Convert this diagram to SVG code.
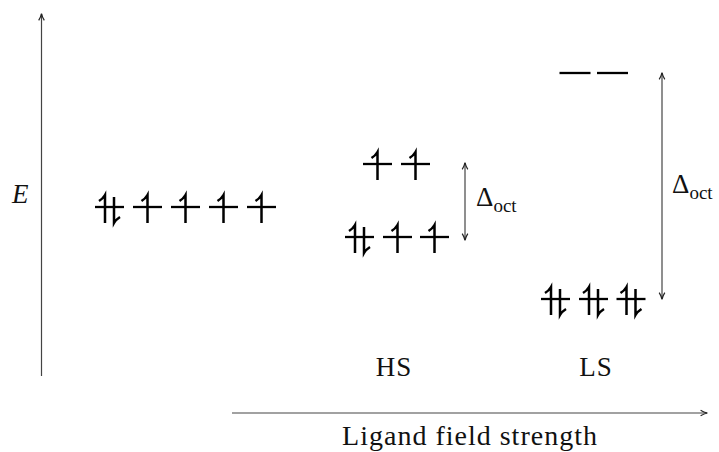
<svg xmlns="http://www.w3.org/2000/svg" width="719" height="452" viewBox="0 0 719 452">
<style>
.lvl{stroke:#000;stroke-width:2.3;fill:none}
.e{stroke:#000;stroke-width:2.5;fill:none;stroke-linecap:butt}
.ax{stroke:#444;stroke-width:1.2;fill:none}
.dl{stroke:#333;stroke-width:1.1;fill:none}
text{font-family:"Liberation Serif","DejaVu Serif",serif;fill:#111}
.lab{font-size:27px}
.sub{font-size:19px}
</style>
<defs>
<marker id="ah" viewBox="0 0 10 10" refX="9" refY="5" markerWidth="8" markerHeight="8" orient="auto-start-reverse" markerUnits="userSpaceOnUse">
<path d="M1,1.5 Q5,4 9.5,5 Q5,6 1,8.5" fill="none" stroke="#222" stroke-width="1.5"/>
</marker>
<path id="up" class="e" d="M0,16 V-12 Q-2,-8.5 -6,-6"/>
<path id="dn" class="e" d="M0,-10 V16 Q2,12.5 6,10"/>
<g id="pair"><line class="lvl" x1="-14.5" y1="0" x2="14.5" y2="0"/><use href="#up" x="-4.5"/><use href="#dn" x="4.5"/></g>
<g id="single"><line class="lvl" x1="-14.5" y1="0" x2="14.5" y2="0"/><use href="#up"/></g>
<g id="empty"><line class="lvl" x1="-15.5" y1="0" x2="15.5" y2="0"/></g>
</defs>
<g id="connectors">
<line class="ax" x1="41.5" y1="376" x2="41.5" y2="14" marker-end="url(#ah)"/>
<line class="ax" x1="232" y1="413" x2="707" y2="413" marker-end="url(#ah)"/>
<line class="dl" x1="465" y1="163" x2="465" y2="240" marker-start="url(#ah)" marker-end="url(#ah)"/>
<line class="dl" x1="662" y1="73" x2="662" y2="299" marker-start="url(#ah)" marker-end="url(#ah)"/>
</g>
<g id="axis-labels">
<text x="12" y="203" class="lab" font-style="italic">E</text>
<text x="470" y="445" font-size="28" letter-spacing="1" text-anchor="middle">Ligand field strength</text>
</g>
<g id="free-ion">
<use href="#pair" x="109.5" y="207"/>
<use href="#single" x="147.5" y="207"/>
<use href="#single" x="185.5" y="207"/>
<use href="#single" x="223.5" y="207"/>
<use href="#single" x="261.5" y="207"/>
</g>
<g id="hs">
<use href="#single" x="377.5" y="164"/>
<use href="#single" x="415.5" y="164"/>
<use href="#pair" x="359.5" y="237"/>
<use href="#single" x="397.5" y="237"/>
<use href="#single" x="434.5" y="237"/>
<text x="476" y="206" class="lab">Δ<tspan class="sub" dy="6">oct</tspan></text>
<text x="394" y="376" class="lab" letter-spacing="1" text-anchor="middle">HS</text>
</g>
<g id="ls">
<use href="#empty" x="575" y="73"/>
<use href="#empty" x="612.5" y="73"/>
<use href="#pair" x="555.5" y="299"/>
<use href="#pair" x="593.5" y="299"/>
<use href="#pair" x="631" y="299"/>
<text x="672" y="193" class="lab">Δ<tspan class="sub" dy="6">oct</tspan></text>
<text x="596" y="376" class="lab" letter-spacing="1" text-anchor="middle">LS</text>
</g>
</svg>
